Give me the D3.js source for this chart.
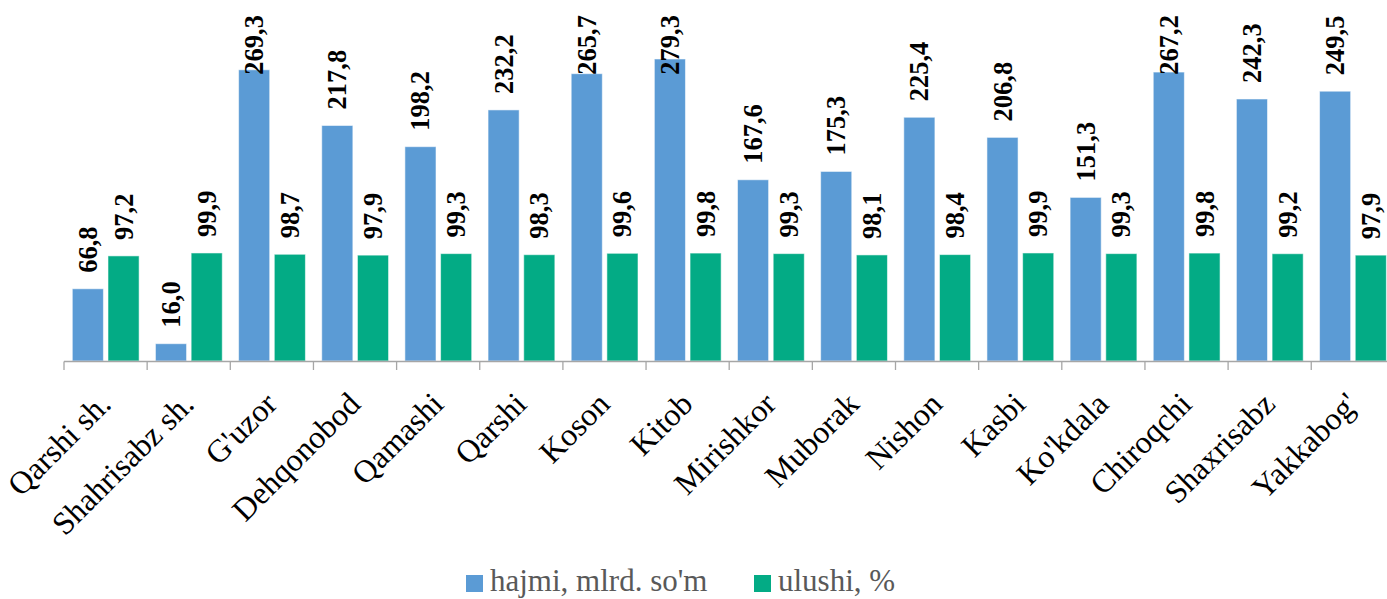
<!DOCTYPE html>
<html>
<head>
<meta charset="utf-8">
<script src="https://cdn.jsdelivr.net/npm/d3@7"></script>
<style>
  html, body { margin: 0; padding: 0; background: #fff; }
  svg { display: block; }
</style>
</head>
<body>
<svg id="chart" width="1387" height="599"></svg>
<script>
const categories = ["Qarshi sh.", "Shahrisabz sh.", "G'uzor", "Dehqonobod", "Qamashi", "Qarshi", "Koson", "Kitob", "Mirishkor", "Muborak", "Nishon", "Kasbi", "Ko'kdala", "Chiroqchi", "Shaxrisabz", "Yakkabog'"];
const hajmi = [66.8, 16.0, 269.3, 217.8, 198.2, 232.2, 265.7, 279.3, 167.6, 175.3, 225.4, 206.8, 151.3, 267.2, 242.3, 249.5];
const ulushi = [97.2, 99.9, 98.7, 97.9, 99.3, 98.3, 99.6, 99.8, 99.3, 98.1, 98.4, 99.9, 99.3, 99.8, 99.2, 97.9];
const seriesNames = ["hajmi, mlrd. so'm", "ulushi, %"];
const seriesColors = ["#5B9BD5", "#03AB85"];

const serif = "Liberation Serif, Times New Roman, serif";
const svg = d3.select("#chart");

const x0 = d3.scaleBand().domain(categories).range([64, 64 + 16 * 83.15]).paddingInner(0).paddingOuter(0);
const x1 = d3.scaleBand().domain([0, 1]).range([8.3, 75.1]).paddingInner(0.1285).paddingOuter(0);
const y = d3.scaleLinear().domain([0, 300]).range([361, 36.6]);

const rows = categories.map((c, i) => ({ c, vals: [hajmi[i], ulushi[i]] }));

// bars
const groups = svg.append("g").selectAll("g").data(rows).join("g")
  .attr("transform", d => `translate(${x0(d.c)},0)`);

groups.selectAll("rect").data(d => d.vals.map((v, k) => ({ v, k }))).join("rect")
  .attr("x", d => x1(d.k))
  .attr("width", x1.bandwidth())
  .attr("y", d => y(d.v))
  .attr("height", d => y(0) - y(d.v))
  .attr("fill", d => seriesColors[d.k])
  .attr("stroke", "rgba(255,255,255,0.55)")
  .attr("stroke-width", 1);

// axis
const axisG = svg.append("g");
axisG.append("line")
  .attr("x1", x0.range()[0]).attr("x2", x0.range()[1])
  .attr("y1", 361.5).attr("y2", 361.5)
  .attr("stroke", "#A6A6A6").attr("stroke-width", 1.3);
const tickPos = categories.map(c => x0(c)).concat([x0.range()[1]]);
axisG.selectAll("line.tick").data(tickPos).join("line")
  .attr("class", "tick")
  .attr("x1", d => d).attr("x2", d => d)
  .attr("y1", 361.5).attr("y2", 370)
  .attr("stroke", "#A6A6A6").attr("stroke-width", 1.3);

// category labels
svg.append("g").selectAll("text").data(categories).join("text")
  .attr("transform", c => `translate(${x0(c) + x0.bandwidth() / 2 + 7},406) rotate(-45)`)
  .attr("text-anchor", "end")
  .style("font-family", serif)
  .attr("font-size", 32)
  .attr("fill", "#000")
  .text(c => c);

// data labels
const fmt = v => d3.format(".1f")(v).replace(".", ",");
const lbls = groups.selectAll("text").data(d => d.vals.map((v, k) => ({ v, k }))).join("text")
  .attr("text-anchor", "start")
  .style("font-family", serif)
  .attr("font-weight", "bold")
  .attr("font-size", 26.5)
  .attr("fill", "#000")
  .attr("dy", "0.34em")
  .text(d => fmt(d.v));
lbls.each(function(d) {
  const len = this.getComputedTextLength();
  const cx = x1(d.k) + x1.bandwidth() / 2;
  const yy = Math.max(y(d.v) - 16, 15 + len);
  d3.select(this).attr("transform", `translate(${cx},${yy}) rotate(-90)`);
});

// legend
const legend = svg.append("g");
const legX = [466, 754];
seriesNames.forEach((n, k) => {
  legend.append("rect")
    .attr("x", legX[k]).attr("y", 575)
    .attr("width", 17).attr("height", 17)
    .attr("fill", seriesColors[k]);
  legend.append("text")
    .attr("x", legX[k] + 24).attr("y", 591)
    .style("font-family", serif)
    .attr("font-size", 31)
    .attr("fill", "#595959")
    .text(n);
});
</script>
</body>
</html>
